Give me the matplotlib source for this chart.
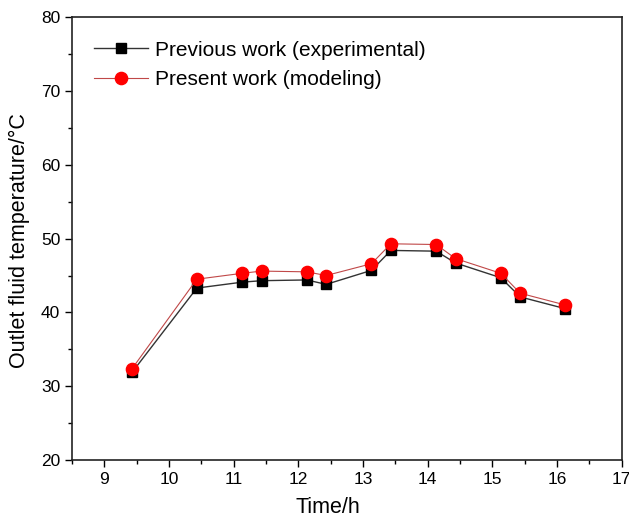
import matplotlib

matplotlib.use("Agg")
import matplotlib.pyplot as plt
from matplotlib.ticker import MultipleLocator

plt.rcParams["font.family"] = ["Liberation Sans", "DejaVu Sans"]

# ── data ────────────────────────────────────────────────────────────────
time_h = [9.43, 10.43, 11.13, 11.43, 12.13, 12.43, 13.13, 13.43, 14.13, 14.43, 15.13, 15.43, 16.13]
experimental = [31.9, 43.3, 44.1, 44.3, 44.4, 43.8, 45.7, 48.4, 48.3, 46.7, 44.7, 42.1, 40.5]
modeling = [32.4, 44.5, 45.3, 45.6, 45.5, 45.0, 46.6, 49.3, 49.2, 47.3, 45.3, 42.6, 41.0]

fig = plt.figure(figsize=(6.29, 5.21), dpi=100)
ax = fig.add_axes([0.1145, 0.117, 0.874, 0.85])

ax.plot(time_h, experimental, color="#333333", lw=1.0, marker="s", ms=7.5,
        mfc="black", mec="black", label="Previous work (experimental)")
ax.plot(time_h, modeling, color="#c04848", lw=0.8, marker="o", ms=8.8,
        mfc="red", mec="red", label="Present work (modeling)")

ax.set_xlim(8.5, 17)
ax.set_ylim(20, 80)
ax.xaxis.set_major_locator(MultipleLocator(1))
ax.xaxis.set_minor_locator(MultipleLocator(0.5))
ax.yaxis.set_major_locator(MultipleLocator(10))
ax.yaxis.set_minor_locator(MultipleLocator(5))
ax.tick_params(which="both", direction="out", top=False, right=False, labelsize=12.5)
ax.tick_params(which="major", length=5, width=1)
ax.tick_params(which="minor", length=3, width=1)
for s in ax.spines.values():
    s.set_linewidth(1.2)
    s.set_color("#222222")

ax.set_xlabel("Time/h", fontsize=15.5)
ax.xaxis.set_label_coords(0.465, -0.083)
ax.set_ylabel("Outlet fluid temperature/°C", fontsize=15.5)
ax.yaxis.set_label_coords(-0.077, 0.495)

ax.legend(loc="upper left", bbox_to_anchor=(0.025, 0.966), borderaxespad=0,
          frameon=False, fontsize=15, handlelength=2.6,
          labelspacing=0.5, handletextpad=0.34)

fig.savefig("out.png", dpi=100)
